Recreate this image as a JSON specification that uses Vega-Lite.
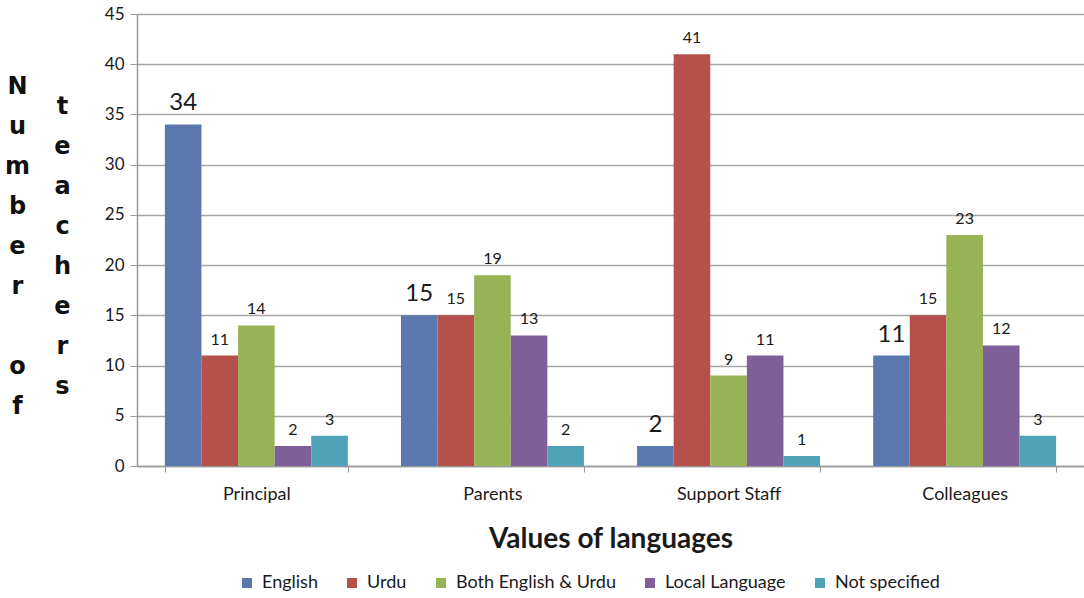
{
  "$schema": "https://vega.github.io/schema/vega-lite/v6.json",
  "width": 947,
  "height": 452,
  "autosize": {"type": "none"},
  "padding": {"left": 137, "top": 14, "right": 0, "bottom": 132},
  "background": "white",
  "config": {
    "view": {"stroke": null},
    "font": "Lato"
  },
  "data": {
    "values": [
      {"cat": "Principal", "lang": "English", "value": 34},
      {"cat": "Principal", "lang": "Urdu", "value": 11},
      {"cat": "Principal", "lang": "Both English & Urdu", "value": 14},
      {"cat": "Principal", "lang": "Local Language", "value": 2},
      {"cat": "Principal", "lang": "Not specified", "value": 3},
      {"cat": "Parents", "lang": "English", "value": 15},
      {"cat": "Parents", "lang": "Urdu", "value": 15},
      {"cat": "Parents", "lang": "Both English & Urdu", "value": 19},
      {"cat": "Parents", "lang": "Local Language", "value": 13},
      {"cat": "Parents", "lang": "Not specified", "value": 2},
      {"cat": "Support Staff", "lang": "English", "value": 2},
      {"cat": "Support Staff", "lang": "Urdu", "value": 41},
      {"cat": "Support Staff", "lang": "Both English & Urdu", "value": 9},
      {"cat": "Support Staff", "lang": "Local Language", "value": 11},
      {"cat": "Support Staff", "lang": "Not specified", "value": 1},
      {"cat": "Colleagues", "lang": "English", "value": 11},
      {"cat": "Colleagues", "lang": "Urdu", "value": 15},
      {"cat": "Colleagues", "lang": "Both English & Urdu", "value": 23},
      {"cat": "Colleagues", "lang": "Local Language", "value": 12},
      {"cat": "Colleagues", "lang": "Not specified", "value": 3}
    ]
  },
  "resolve": {"axis": {"y": "independent"}},
  "encoding": {
    "x": {
      "field": "cat",
      "type": "nominal",
      "sort": ["Principal", "Parents", "Support Staff", "Colleagues"],
      "scale": {"paddingInner": 0.225, "paddingOuter": 0.118},
      "axis": {
        "title": "Values of languages",
        "titleFont": "Lato",
        "titleFontSize": 28,
        "titleFontWeight": "bold",
        "titleColor": "#1a1a1a",
        "titleBaseline": "alphabetic",
        "titleY": 81,
        "labelAngle": 0,
        "labelFontSize": 18,
        "labelColor": "#1a1a1a",
        "labelPadding": 13,
        "tickBand": "extent",
        "tickSize": 6,
        "tickColor": "#999999",
        "domainColor": "#999999",
        "domainWidth": 1.5,
        "grid": false
      }
    },
    "xOffset": {
      "field": "lang",
      "type": "nominal",
      "sort": ["English", "Urdu", "Both English & Urdu", "Local Language", "Not specified"],
      "scale": {"paddingInner": 0, "paddingOuter": 0}
    },
    "color": {
      "field": "lang",
      "type": "nominal",
      "scale": {
        "domain": ["English", "Urdu", "Both English & Urdu", "Local Language", "Not specified"],
        "range": ["#5a78ad", "#b6504b", "#98b256", "#7e5f98", "#4ea3b9"]
      },
      "legend": {
        "title": null,
        "orient": "none",
        "direction": "horizontal",
        "legendX": 101,
        "legendY": 560,
        "symbolType": "square",
        "symbolSize": 100,
        "symbolStrokeWidth": 0,
        "labelFontSize": 18,
        "labelLimit": 300,
        "labelColor": "#1a1a1a",
        "labelOffset": 6,
        "columnPadding": 25,
        "padding": 0
      }
    }
  },
  "layer": [
    {
      "mark": {"type": "bar", "width": {"band": 1}},
      "encoding": {
        "y": {
          "field": "value",
          "type": "quantitative",
          "scale": {"domain": [0, 45], "nice": false},
          "axis": {
            "values": [0, 5, 10, 15, 20, 25, 30, 35, 40, 45],
            "title": ["N", "u", "m", "b", "e", "r", "\u200b", "o", "f"],
            "titleAngle": 0,
            "titleFont": "DejaVu Sans",
            "titleFontSize": 24,
            "titleFontWeight": "bold",
            "titleColor": "#111111",
            "titleAlign": "center",
            "titleBaseline": "alphabetic",
            "titleLineHeight": 40,
            "titleX": -120,
            "titleY": 79,
            "labelFontSize": 17,
            "labelColor": "#1a1a1a",
            "labelPadding": 6,
            "tickSize": 7,
            "tickColor": "#999999",
            "domainColor": "#999999",
            "domainWidth": 1.5,
            "gridColor": "#a6a6a6",
            "gridWidth": 1.5
          }
        }
      }
    },
    {
      "transform": [{"filter": "datum.lang === 'English'"}],
      "mark": {"type": "text", "baseline": "alphabetic", "dy": -14, "fontSize": 24, "color": "#1a1a1a"},
      "encoding": {
        "y": {
          "field": "value",
          "type": "quantitative",
          "axis": {
            "orient": "right",
            "title": ["t", "e", "a", "c", "h", "e", "r", "s"],
            "titleAngle": 0,
            "titleFont": "DejaVu Sans",
            "titleFontSize": 24,
            "titleFontWeight": "bold",
            "titleColor": "#111111",
            "titleAlign": "center",
            "titleBaseline": "alphabetic",
            "titleLineHeight": 40,
            "titleX": -1022,
            "titleY": 99,
            "labels": false,
            "ticks": false,
            "domain": false,
            "grid": false
          }
        },
        "text": {"field": "value"},
        "color": {"value": "#1a1a1a"}
      }
    },
    {
      "transform": [{"filter": "datum.lang !== 'English'"}],
      "mark": {"type": "text", "baseline": "alphabetic", "dy": -11, "fontSize": 16, "color": "#1a1a1a"},
      "encoding": {
        "y": {"field": "value", "type": "quantitative", "axis": null},
        "text": {"field": "value"},
        "color": {"value": "#1a1a1a"}
      }
    }
  ]
}
